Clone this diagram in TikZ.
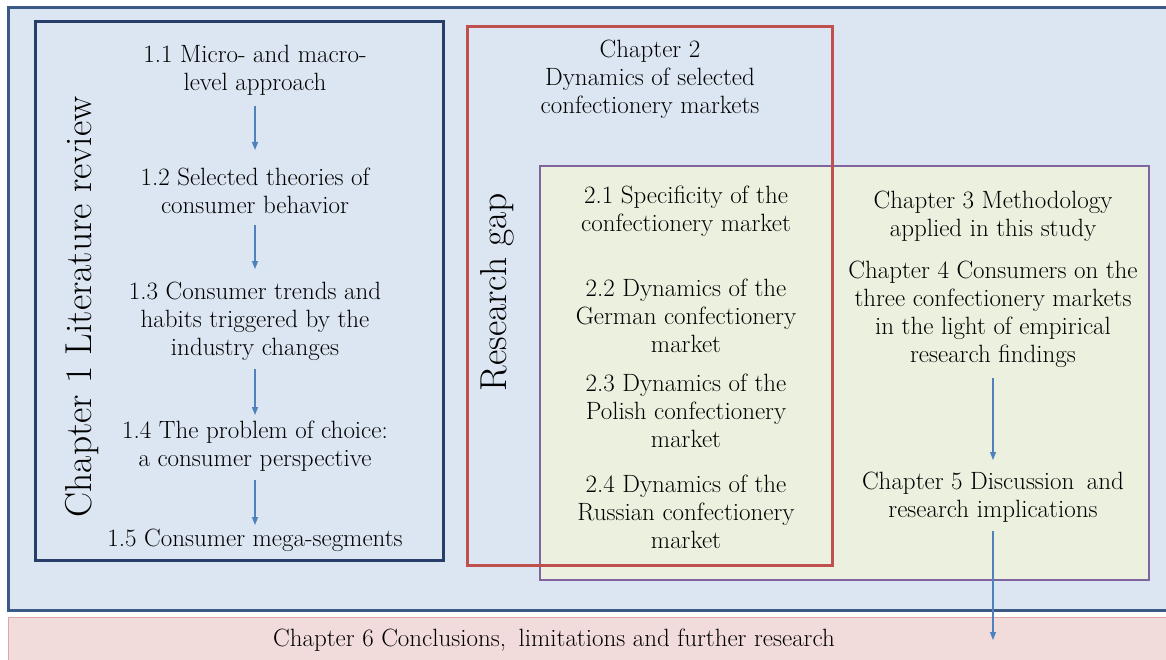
\documentclass[tikz,border=0pt]{standalone}
\usepackage{fontspec}
\usetikzlibrary{arrows.meta}
\definecolor{Outer_blue}{RGB}{60, 90, 135}
\definecolor{Back_blue}{RGB}{220, 230, 242}
\definecolor{Lit_navy}{RGB}{38, 62, 105}
\definecolor{Gap_red}{RGB}{192, 80, 77}
\definecolor{Method_violet}{RGB}{128, 100, 160}
\definecolor{Method_green}{RGB}{236, 241, 223}
\definecolor{Concl_pink}{RGB}{242, 220, 219}
\definecolor{Arrow_blue}{RGB}{79, 129, 189}
\tikzset{
    chap/.style={align=center, inner sep=1pt, text=black,
        font=\rmfamily\fontsize{25}{28}\selectfont},
    side title/.style={rotate=90, inner sep=0pt, text=black,
        font=\rmfamily\fontsize{37.5}{40}\selectfont},
    flow arrow/.style={draw=Arrow_blue, line width=1.1pt,
        -{Triangle[length=8pt,width=6pt]}}
}

\begin{document}
\begin{tikzpicture}[x=1pt, y=-1pt]
    \useasboundingbox (0,0) rectangle (1166,660);

    %% Background
    \draw[line width=3pt, Outer_blue, fill=Back_blue] (8,8) rectangle (1180,610);
    \draw[line width=1pt, Gap_red!50, fill=Concl_pink] (8,617) rectangle (1180,670);
    \draw[line width=2.5pt, Method_violet, fill=Method_green] (540,166) rectangle (1149,580);
    \draw[line width=3pt, Lit_navy] (35,22) rectangle (443,560);
    \draw[line width=3pt, Gap_red] (467,27) rectangle (832,565);

    %% Chapter 1
    \node[side title] (ch1) at (82,307) {Chapter 1 Literature review};
    \node[chap] (l11) at (255,70) {1.1 Micro- and macro-\\level approach};
    \node[chap] (l12) at (255,191) {1.2 Selected theories of\\consumer behavior};
    \node[chap] (l13) at (255,321) {1.3 Consumer trends and\\habits triggered by the\\industry changes};
    \node[chap] (l14) at (255,446) {1.4 The problem of choice:\\a consumer perspective};
    \node[chap] (l15) at (255,540) {1.5 Consumer mega-segments};
    \draw[flow arrow] (l11.south) ++(0,10) coordinate (a1) -- (a1 |- 0,150);
    \draw[flow arrow] (l12.south) ++(0,10) coordinate (a2) -- (a2 |- 0,269);
    \draw[flow arrow] (l13.south) ++(0,8) coordinate (a3) -- (a3 |- 0,415);
    \draw[flow arrow] (l14.south) ++(0,8) coordinate (a4) -- (a4 |- 0,525);

    %% Chapter 2
    \node[side title] (gap) at (497,292) {Research gap};
    \node[chap] (ch2) at (650,79) {Chapter 2\\Dynamics of selected\\confectionery markets};
    \node[chap] (c21) at (686,211) {2.1 Specificity of the\\confectionery market};
    \node[chap] (c22) at (686,316) {2.2 Dynamics of the\\German confectionery\\market};
    \node[chap] (c23) at (686,411) {2.3 Dynamics of the\\Polish confectionery\\market};
    \node[chap] (c24) at (686,512) {2.4 Dynamics of the\\Russian confectionery\\market};

    %% Chapters 3 to 6
    \node[chap] (c3) at (993,216) {Chapter 3 Methodology\\applied in this study};
    \node[chap] (c4) at (993,314) {Chapter 4 Consumers on the\\three confectionery markets\\in the light of empirical\\research findings};
    \node[chap] (c5) at (993,497) {Chapter 5 Discussion\enspace and\\research implications};
    \node[chap] (c6) at (554,640) {Chapter 6 Conclusions,\enspace limitations and further research};
    \coordinate (c6tip) at (993,640);
    \draw[flow arrow] (c4.south) ++(0,10) coordinate (a5) -- (a5 |- 0,460);
    \draw[flow arrow] (c5.south) ++(0,8) coordinate (a6) -- (c6tip);

\end{tikzpicture}
\end{document}
